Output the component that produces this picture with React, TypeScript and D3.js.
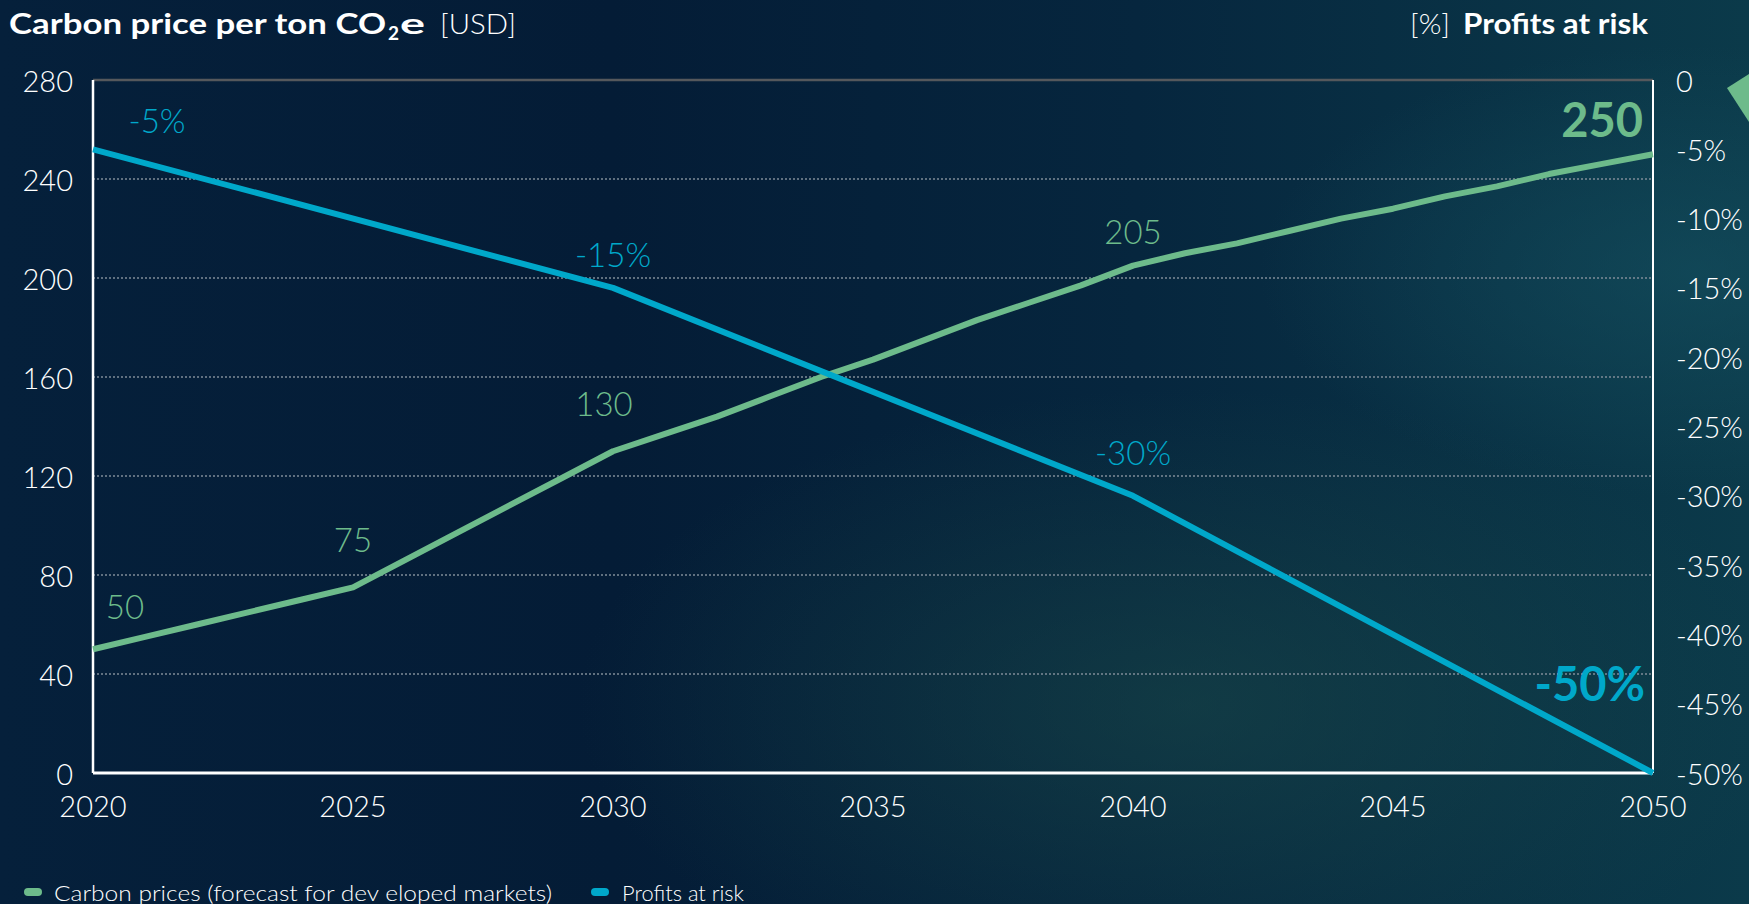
import React from "react";
import * as d3 from "d3";

const years = [2020, 2021, 2022, 2023, 2024, 2025, 2026, 2027, 2028, 2029, 2030, 2031, 2032, 2033, 2034, 2035, 2036, 2037, 2038, 2039, 2040, 2041, 2042, 2043, 2044, 2045, 2046, 2047, 2048, 2049, 2050];
const carbonPrice = [50, 55, 60, 65, 70, 75, 86, 97, 108, 119, 130, 137, 144, 152, 160, 167, 175, 183, 190, 197, 205, 210, 214, 219, 224, 228, 233, 237, 242, 246, 250];
const profitYears = [2020, 2030, 2040, 2050];
const profitAtRisk = [-5, -15, -30, -50];

const carbonLabelYears = [2020, 2025, 2030, 2040];
const carbonLabelText = ["50", "75", "130", "205"];
const profitLabelYears = [2020, 2030, 2040];
const profitLabelText = ["-5%", "-15%", "-30%"];

const leftTicks = [0, 40, 80, 120, 160, 200, 240, 280];
const rightTicks = [0, -5, -10, -15, -20, -25, -30, -35, -40, -45, -50];
const rightTickLabels = ["0", "-5%", "-10%", "-15%", "-20%", "-25%", "-30%", "-35%", "-40%", "-45%", "-50%"];
const xTicks = [2020, 2025, 2030, 2035, 2040, 2045, 2050];
const legendLabels = ["Carbon prices (forecast for dev eloped markets)", "Profits at risk"];

const W = 1749;
const H = 904;
const GREEN = "#6dbb8b";
const BLUE = "#00a8ca";
const FONT = "Lato, 'Open Sans', sans-serif";

export default function App() {
  const x = d3.scaleLinear().domain([2020, 2050]).range([93, 1653]);
  const yL = d3.scaleLinear().domain([0, 280]).range([773, 80]);
  const yR = d3.scaleLinear().domain([-50, 0]).range([773, 80]);

  const greenLine = d3
    .line<number>()
    .x((_, i) => x(years[i]))
    .y((d) => yL(d))(carbonPrice);
  const blueLine = d3
    .line<number>()
    .x((_, i) => x(profitYears[i]))
    .y((d) => yR(d))(profitAtRisk);

  const greenOffsets = [
    [32, -43],
    [0, -48],
    [-9, -48],
    [0, -35],
  ];
  const blueOffsets = [
    [64, -29],
    [0, -34],
    [0, -44],
  ];

  return (
    <svg width={W} height={H} style={{ position: "absolute", left: 0, top: 0 }}>
      <defs>
        <linearGradient id="bg" x1="0" y1="0" x2="1" y2="0">
          <stop offset="0" stopColor="#05203b" />
          <stop offset="0.35" stopColor="#041c36" />
          <stop offset="0.65" stopColor="#06263e" />
          <stop offset="1" stopColor="#0b3a4a" />
        </linearGradient>
        <radialGradient id="glow1" cx="0.68" cy="0.78" r="0.35">
          <stop offset="0" stopColor="#1c4d4a" stopOpacity="0.5" />
          <stop offset="1" stopColor="#1c4d4a" stopOpacity="0" />
        </radialGradient>
        <radialGradient id="glow2" cx="0.97" cy="0.3" r="0.25">
          <stop offset="0" stopColor="#155060" stopOpacity="0.6" />
          <stop offset="1" stopColor="#155060" stopOpacity="0" />
        </radialGradient>
      </defs>
      <rect x={0} y={0} width={W} height={H} fill="url(#bg)" />
      <rect x={0} y={0} width={W} height={H} fill="url(#glow1)" />
      <rect x={0} y={0} width={W} height={H} fill="url(#glow2)" />

      {/* decorative wedge at right edge */}
      <polygon points="1727,88 1749,74 1749,122" fill={GREEN} />

      {/* titles */}
      <text x={9} y={34} fill="#fff" fontFamily={FONT} fontSize={28} fontWeight={700} textLength={377} lengthAdjust="spacingAndGlyphs">
        Carbon price per ton CO
      </text>
      <text x={388} y={40} fill="#fff" fontFamily={FONT} fontSize={19} fontWeight={700}>
        2
      </text>
      <text x={400} y={34} fill="#fff" fontFamily={FONT} fontSize={28} fontWeight={700} textLength={25} lengthAdjust="spacingAndGlyphs">
        e
      </text>
      <text x={440} y={34} fill="#fff" fontFamily={FONT} fontSize={28} fontWeight={300} textLength={76} lengthAdjust="spacingAndGlyphs">
        [USD]
      </text>
      <text x={1410} y={34} fill="#fff" fontFamily={FONT} fontSize={28} fontWeight={300} textLength={40} lengthAdjust="spacingAndGlyphs">
        [%]
      </text>
      <text x={1463} y={34} fill="#fff" fontFamily={FONT} fontSize={28} fontWeight={700} textLength={185} lengthAdjust="spacingAndGlyphs">
        Profits at risk
      </text>

      {/* gridlines */}
      {leftTicks
        .filter((t) => t > 0 && t < 280)
        .map((t) => (
          <line
            key={"g" + t}
            x1={x(2020)}
            x2={x(2050)}
            y1={yL(t)}
            y2={yL(t)}
            stroke="#7f8c98"
            strokeWidth={1.3}
            strokeDasharray="2,2"
          />
        ))}
      <line x1={x(2020)} x2={x(2050)} y1={yL(280)} y2={yL(280)} stroke="#55585c" strokeWidth={2.5} />

      {/* axes */}
      <line x1={x(2020)} x2={x(2020)} y1={yL(280)} y2={yL(0)} stroke="#fff" strokeWidth={2.5} />
      <line x1={x(2050)} x2={x(2050)} y1={yR(0)} y2={yR(-50)} stroke="#fff" strokeWidth={2} />
      <line x1={x(2020)} x2={x(2050)} y1={yL(0)} y2={yL(0)} stroke="#fff" strokeWidth={3} />

      {/* left tick labels */}
      {leftTicks.map((t) => (
        <text
          key={"l" + t}
          x={73}
          y={yL(t)}
          fill="#fff"
          fontFamily={FONT}
          fontWeight={300}
          fontSize={29}
          textAnchor="end"
          dominantBaseline="central"
        >
          {t}
        </text>
      ))}
      {/* right tick labels */}
      {rightTicks.map((t, i) => (
        <text
          key={"r" + t}
          x={1676}
          y={yR(t)}
          fill="#fff"
          fontFamily={FONT}
          fontWeight={300}
          fontSize={29}
          textAnchor="start"
          dominantBaseline="central"
        >
          {rightTickLabels[i]}
        </text>
      ))}
      {/* x tick labels */}
      {xTicks.map((t) => (
        <text
          key={"x" + t}
          x={x(t)}
          y={805}
          fill="#fff"
          fontFamily={FONT}
          fontWeight={300}
          fontSize={29}
          textAnchor="middle"
          dominantBaseline="central"
        >
          {t}
        </text>
      ))}

      {/* series */}
      <path d={greenLine || ""} fill="none" stroke={GREEN} strokeWidth={6} strokeLinejoin="round" />
      <path d={blueLine || ""} fill="none" stroke={BLUE} strokeWidth={6} strokeLinejoin="round" />

      {/* data labels */}
      {carbonLabelYears.map((yr, i) => {
        const v = carbonPrice[years.indexOf(yr)];
        return (
          <text
            key={"cl" + yr}
            x={x(yr) + greenOffsets[i][0]}
            y={yL(v) + greenOffsets[i][1]}
            fill={GREEN}
            fontFamily={FONT}
            fontWeight={300}
            fontSize={33}
            textAnchor="middle"
            dominantBaseline="central"
          >
            {carbonLabelText[i]}
          </text>
        );
      })}
      <text
        x={1643}
        y={yL(250) - 35}
        fill={GREEN}
        fontFamily={FONT}
        fontWeight={700}
        fontSize={47}
        textAnchor="end"
        dominantBaseline="central"
      >
        {carbonPrice[carbonPrice.length - 1]}
      </text>
      {profitLabelYears.map((yr, i) => {
        const v = profitAtRisk[profitYears.indexOf(yr)];
        return (
          <text
            key={"pl" + yr}
            x={x(yr) + blueOffsets[i][0]}
            y={yR(v) + blueOffsets[i][1]}
            fill={BLUE}
            fontFamily={FONT}
            fontWeight={300}
            fontSize={33}
            textAnchor="middle"
            dominantBaseline="central"
          >
            {profitLabelText[i]}
          </text>
        );
      })}
      <text
        x={1645}
        y={683}
        fill={BLUE}
        fontFamily={FONT}
        fontWeight={700}
        fontSize={47}
        textAnchor="end"
        dominantBaseline="central"
      >
        {profitAtRisk[profitAtRisk.length - 1] + "%"}
      </text>

      {/* legend */}
      <rect x={24} y={888} width={18} height={8} rx={4} fill={GREEN} />
      <text x={54} y={892} fill="#fff" fontFamily={FONT} fontWeight={300} fontSize={22} dominantBaseline="central" textLength={498} lengthAdjust="spacingAndGlyphs">
        {legendLabels[0]}
      </text>
      <rect x={591} y={888} width={18} height={8} rx={4} fill={BLUE} />
      <text x={622} y={892} fill="#fff" fontFamily={FONT} fontWeight={300} fontSize={22} dominantBaseline="central" textLength={122} lengthAdjust="spacingAndGlyphs">
        {legendLabels[1]}
      </text>
    </svg>
  );
}
